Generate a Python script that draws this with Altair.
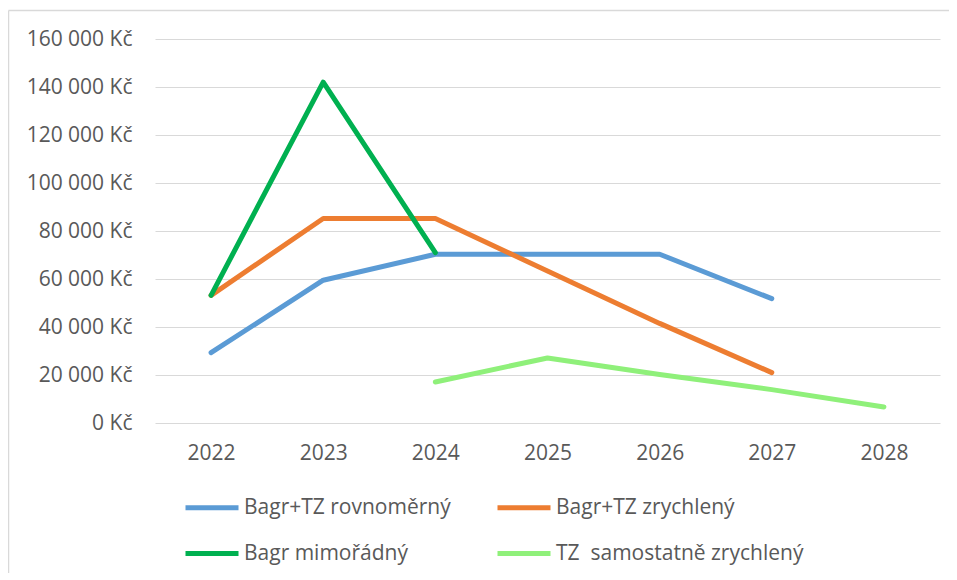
import altair as alt
import pandas as pd

years = ["2022", "2023", "2024", "2025", "2026", "2027", "2028"]
series = ["Bagr+TZ rovnoměrný", "Bagr+TZ zrychlený", "Bagr mimořádný", "TZ \u00a0samostatně zrychlený"]
colors = ["#5B9BD5", "#ED7D31", "#00B050", "#8FF07A"]

rovnomerny = [29300, 59500, 70300, 70300, 70300, 51800, None]
zrychleny = [53200, 85200, 85200, 63300, 41500, 21000, None]
mimoradny = [53200, 142000, 71000, None, None, None, None]
tz_samostatne = [None, None, 17100, 27100, 20200, 13900, 6700]

y_ticks = [0, 20000, 40000, 60000, 80000, 100000, 120000, 140000, 160000]

rows = []
for name, vals in zip(series, [rovnomerny, zrychleny, mimoradny, tz_samostatne]):
    for yr, v in zip(years, vals):
        if v is not None:
            rows.append({"rok": yr, "serie": name, "hodnota": v})
df = pd.DataFrame(rows)

W, H = 785, 384
FONT = "Open Sans"
TXT = "#595959"

lines = alt.Chart(df).mark_line(strokeWidth=5, strokeCap="round", strokeJoin="round").encode(
    x=alt.X("rok:O", sort=years, scale=alt.Scale(domain=years, padding=0.5),
            axis=alt.Axis(title=None, labelAngle=0, domain=False, ticks=False, tickSize=0,
                          labelPadding=19, grid=False)),
    y=alt.Y("hodnota:Q", scale=alt.Scale(domain=[0, 160000], nice=False),
            axis=alt.Axis(title=None, values=y_ticks, domain=False, ticks=False, tickSize=0,
                          labelPadding=23, gridColor="#D9D9D9", gridWidth=1.2,
                          labelExpr="replace(format(datum.value, ',d'), ',', ' ') + ' Kč'")),
    color=alt.Color("serie:N", sort=series,
                    scale=alt.Scale(domain=series, range=colors),
                    legend=alt.Legend(title=None, orient="none", columns=2, direction="horizontal",
                                      legendX=44.5, legendY=456,
                                      symbolType="M-2.65,0L2.65,0", symbolSize=400,
                                      symbolStrokeWidth=5, labelOffset=19.5,
                                      columnPadding=36, rowPadding=23,
                                      labelLimit=400)),
    order=alt.Order("rok:O"),
)

border_df = pd.DataFrame({"k": [0]})
top_border = alt.Chart(border_df).mark_rule(color="#D9D9D9", strokeWidth=1.5).encode(
    x=alt.value(-146.5), x2=alt.value(W + 9), y=alt.value(-28.5)
)
left_border = alt.Chart(border_df).mark_rule(color="#D9D9D9", strokeWidth=1.5).encode(
    x=alt.value(-146.5), y=alt.value(-28.5), y2=alt.value(H + 150)
)

chart = alt.layer(top_border, left_border, lines).properties(
    width=W, height=H,
    autosize=alt.AutoSizeParams(type="none"),
    padding={"left": 147, "top": 31, "right": 9, "bottom": 150},
).configure_view(stroke=None).configure_axis(
    labelFont=FONT, labelFontSize=21, labelColor=TXT
).configure_legend(
    labelFont=FONT, labelFontSize=21, labelColor=TXT
)

chart.save("out.html", embed_options={"renderer": "svg", "actions": False})
